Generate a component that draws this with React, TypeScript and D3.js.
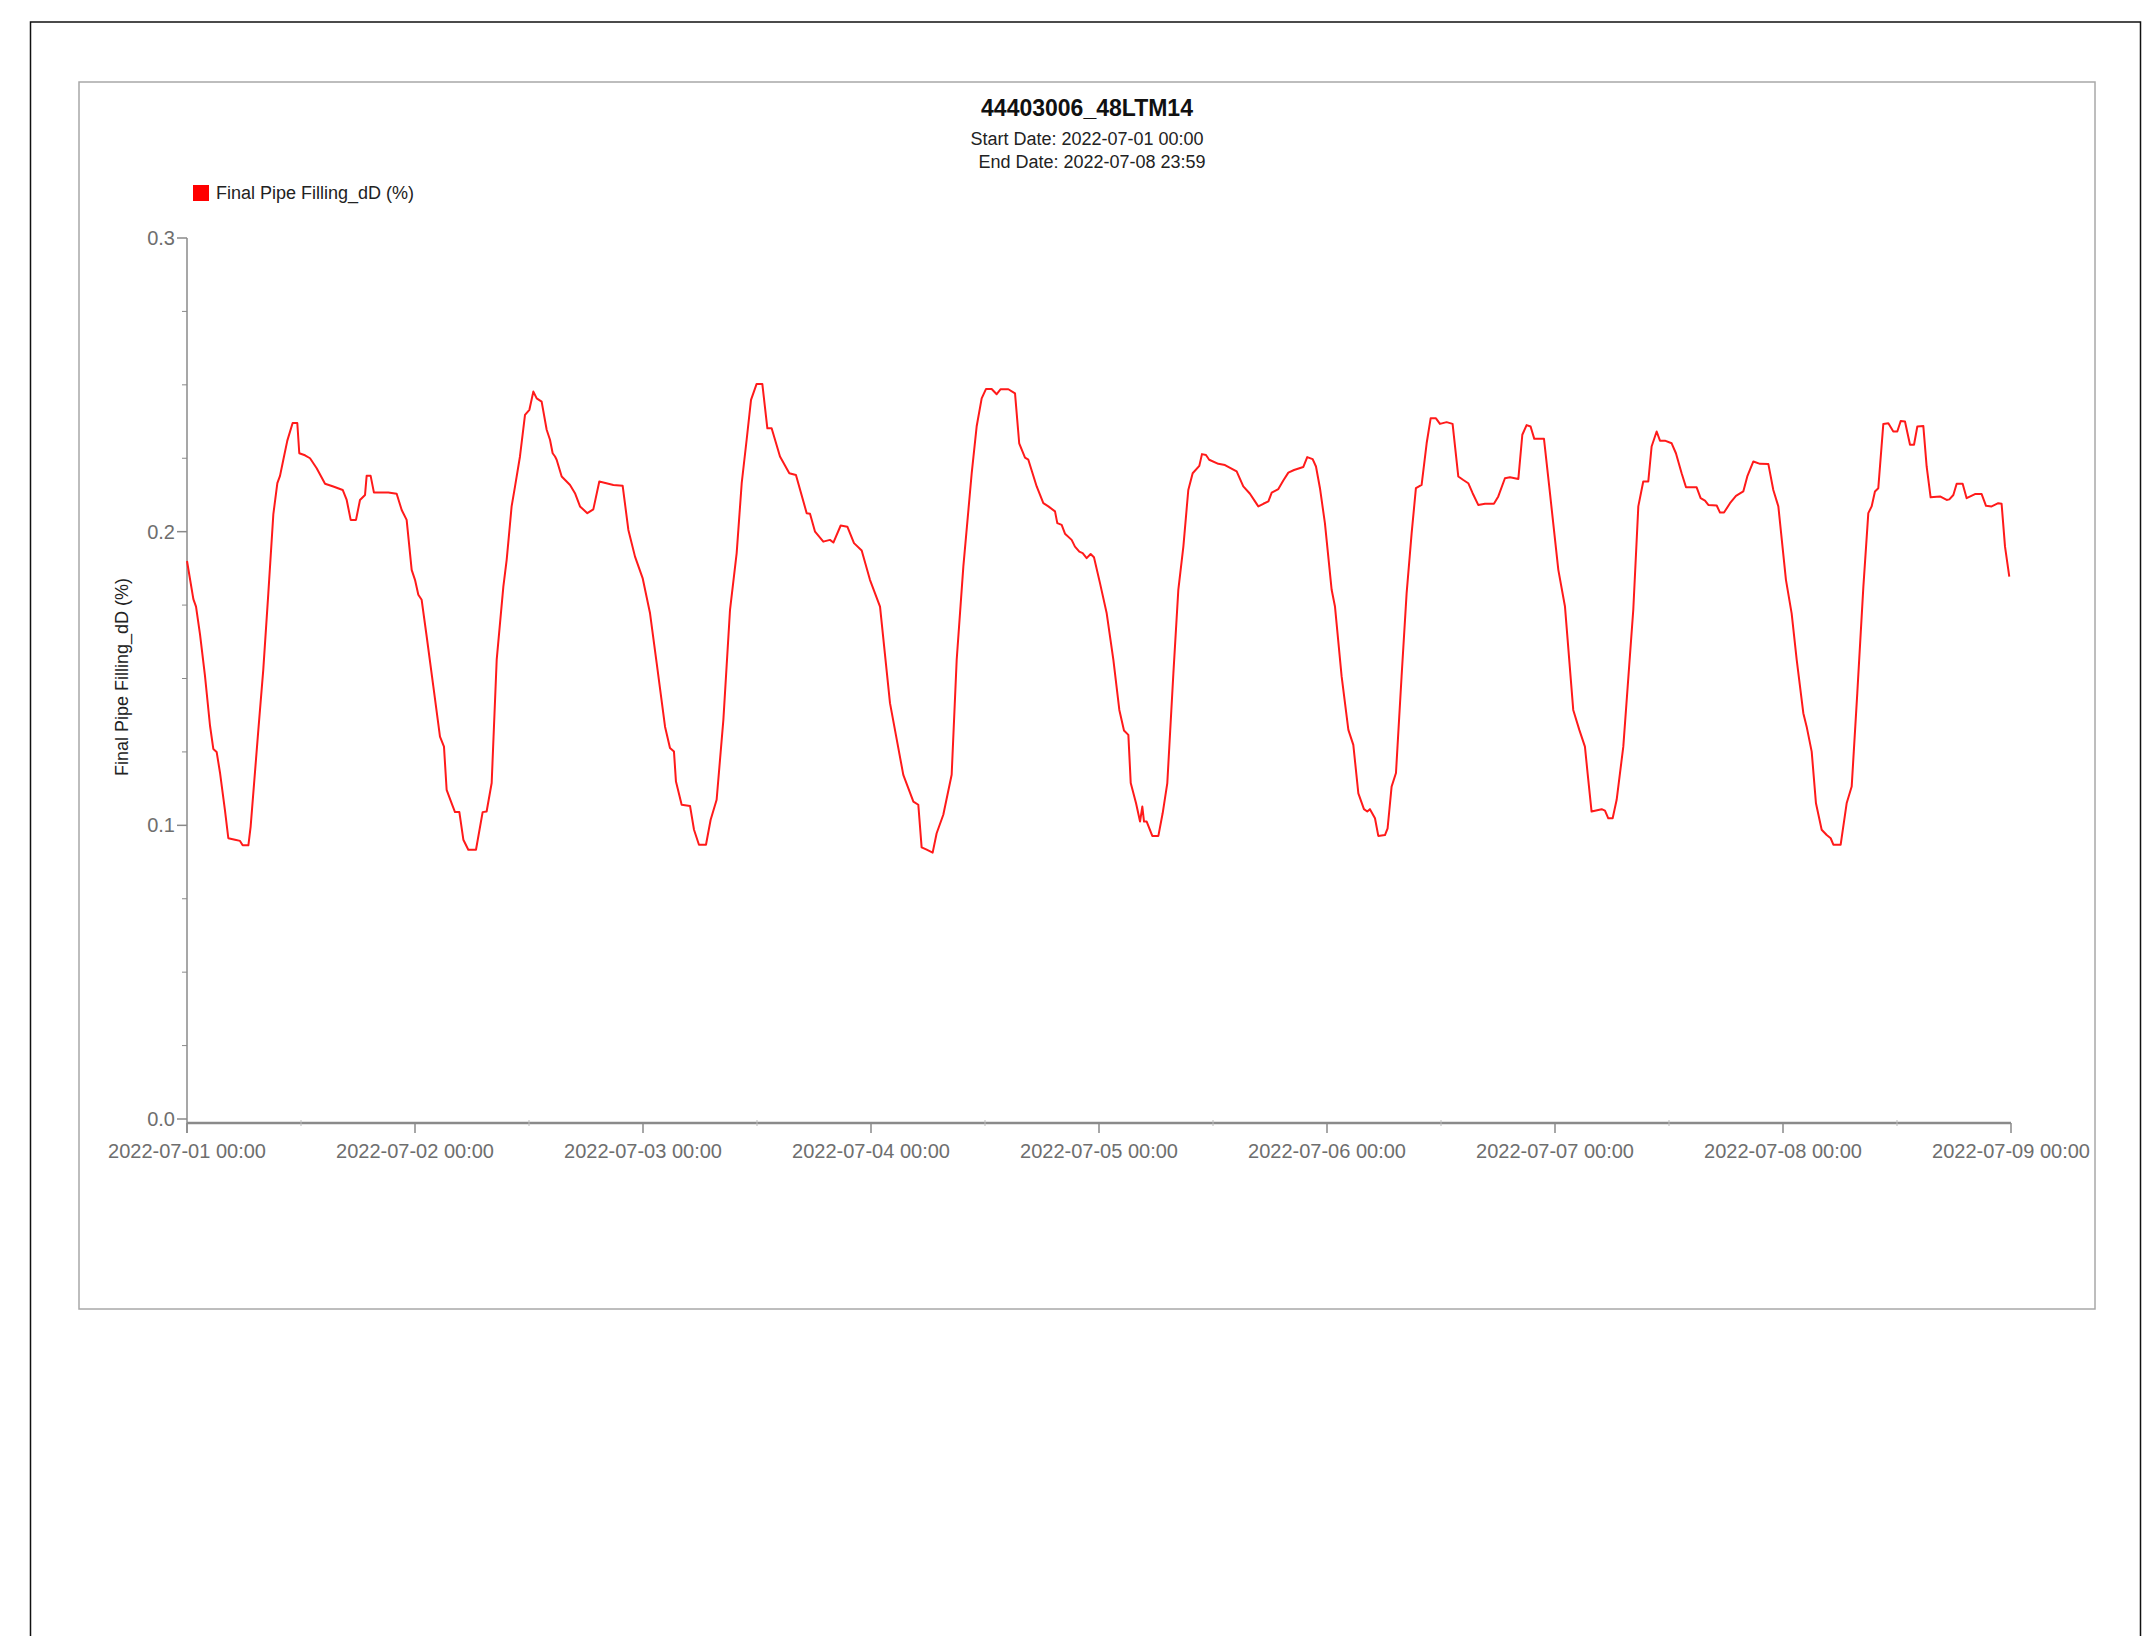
import React from "react";
import * as d3 from "d3";

const TITLE = "44403006_48LTM14";
const START_LABEL = "Start Date: 2022-07-01 00:00";
const END_LABEL = "End Date: 2022-07-08 23:59";
const SERIES_NAME = "Final Pipe Filling_dD (%)";
const Y_LABEL = "Final Pipe Filling_dD (%)";

const START = "2022-07-01T00:00:00Z";
const END = "2022-07-09T00:00:00Z";
const Y_TICKS = [0, 0.1, 0.2, 0.3];
const Y_MINOR_STEP = 0.025;

// hours since 2022-07-01 00:00
const HOURS = [
  0.0, 0.67, 0.95, 1.37, 1.89, 2.42, 2.77, 3.12, 3.47, 4.0, 4.35, 5.05, 5.58, 5.86, 6.46, 6.7, 7.51, 8.03, 8.56, 9.09,
  9.51, 9.79, 10.14, 10.56, 11.12, 11.61, 11.82, 12.42, 12.95, 13.65, 14.53, 15.4, 16.39, 16.81, 17.23, 17.79, 18.21,
  18.74, 18.91, 19.33, 19.68, 21.19, 22.07, 22.6, 23.12, 23.65, 24.0, 24.35, 24.7, 25.23, 25.93, 26.63, 27.05, 27.33,
  27.86, 28.21, 28.67, 29.09, 29.61, 30.42, 31.12, 31.54, 32.07, 32.6, 33.3, 33.65, 34.17, 34.53, 35.05, 35.58, 36.04,
  36.46, 36.81, 37.33, 37.86, 38.21, 38.49, 38.74,
  38.91, 39.44, 40.32, 40.84, 41.37, 42.14, 42.77, 43.4, 44.88, 45.86, 46.46, 47.16, 47.96, 48.74, 49.44, 50.32, 50.84,
  51.26, 51.47, 52.07, 52.95, 53.37, 53.89, 54.63, 55.12, 55.75, 56.46, 57.16, 57.86, 58.39, 58.91, 59.37, 59.96, 60.56,
  61.09, 61.54, 62.42, 63.4, 64.1, 65.23, 65.58, 66.11, 66.98, 67.68, 68.04, 68.81, 69.51, 70.21, 71.02, 71.89, 72.95,
  74.0, 75.4, 76.46, 76.98, 77.33,
  77.86, 78.49, 78.91, 79.61, 80.49, 81.02, 81.72, 82.6, 83.12, 83.65, 84.11, 84.7, 85.23, 85.65, 86.46, 87.16, 87.6,
  88.21, 88.56, 89.44, 90.14, 90.67, 91.37, 91.61, 92.07, 92.42, 93.12, 93.47, 93.93, 94.28, 94.7, 95.12, 95.47, 96.11,
  96.81, 97.51, 98.14, 98.63, 99.09, 99.34, 99.9, 100.32, 100.56, 100.74, 101.02, 101.61, 102.25, 102.7, 103.19,
  103.83, 104.35, 104.88, 105.4, 105.86, 106.56, 106.84, 107.26, 107.6, 108.56, 109.26, 110.49, 111.19, 111.89,
  112.42, 112.77, 113.3, 113.83, 114.18, 114.88, 115.4, 115.93, 116.53,
  117.5, 117.92, 118.49, 118.84, 119.26, 119.78, 120.49, 120.84, 121.54, 122.25, 122.77, 123.3, 123.89, 124.24,
  124.52, 125.05, 125.4, 126.1, 126.38, 126.8, 127.26, 127.85, 128.38, 128.91, 129.36, 129.96, 130.49, 130.91,
  131.47, 131.89, 132.59, 133.22, 133.82, 134.35, 134.87, 135.33, 135.92, 136.63, 137.57, 138.03, 138.73, 139.26,
  140.14, 140.56, 141.01, 141.43, 141.82, 142.84, 143.47, 144.35, 145.05, 145.92, 146.56, 147.15, 147.43, 147.85,
  148.91, 149.26, 149.61, 150.07, 150.49, 151.19, 152.24, 152.77, 153.29, 153.82, 154.17, 154.7, 155.05, 155.57,
  156.28, 156.73, 157.33, 157.79, 158.91, 159.33, 159.79, 160.14, 161.02, 161.37, 161.79, 162.42, 163.05, 163.82,
  164.24, 164.88, 165.58, 166.46, 166.98, 167.51, 168.31, 168.91, 169.44, 170.14, 170.49, 171.02, 171.47, 172.07,
  172.6, 173.02, 173.3, 174.07, 174.7, 175.23, 175.82, 176.46, 176.98, 177.33, 177.68, 178.03, 178.56, 179.09,
  179.61, 180.03, 180.39, 180.84, 181.37, 181.79, 182.14, 182.77, 183.12, 183.54, 184.53, 185.23, 185.51, 185.93,
  186.28, 186.91, 187.33, 188.21, 188.91, 189.37, 189.96, 190.66, 191.01, 191.37, 191.82,
];

const FILLING = [
  0.19, 0.177, 0.1745, 0.165, 0.151, 0.134, 0.126, 0.125, 0.118, 0.105, 0.0956, 0.0951, 0.0947, 0.0932, 0.0932, 0.0996,
  0.1325, 0.153, 0.179, 0.206, 0.2165, 0.219, 0.2245, 0.231, 0.237, 0.237, 0.2267, 0.226, 0.225, 0.2216, 0.2163,
  0.2154, 0.2142, 0.2108, 0.204, 0.204, 0.2108, 0.2125, 0.219, 0.219, 0.2133, 0.2133, 0.2129, 0.2074, 0.204, 0.187,
  0.1836, 0.1785, 0.1768, 0.1643, 0.1473, 0.1302, 0.1268, 0.1121, 0.1075, 0.1045, 0.1045, 0.0951, 0.0917, 0.0917,
  0.1045, 0.1047, 0.1144, 0.1564, 0.1813, 0.1904, 0.2086, 0.2154, 0.2256, 0.2398, 0.2415, 0.2477, 0.2454, 0.2443,
  0.2347, 0.2313, 0.2267, 0.2256,
  0.2245, 0.2188, 0.2159, 0.2131, 0.2086, 0.2063, 0.2076, 0.2171, 0.2159, 0.2156, 0.2006, 0.1915, 0.1842, 0.1722,
  0.1552, 0.1336, 0.1263, 0.1251, 0.1149, 0.107, 0.1066, 0.0985, 0.0934, 0.0934, 0.1019, 0.1087, 0.1359, 0.1734,
  0.1927, 0.2165, 0.2313, 0.2449, 0.2503, 0.2503, 0.2352, 0.2352, 0.2256, 0.2199, 0.2193, 0.2063, 0.2061, 0.2,
  0.1966, 0.1972, 0.1963, 0.2021, 0.2017, 0.1961, 0.1936, 0.1836, 0.1745, 0.1416, 0.1172, 0.1081, 0.107, 0.0925,
  0.0917, 0.0907, 0.0973, 0.1036, 0.1172, 0.1564, 0.1881, 0.2199, 0.2358, 0.2454, 0.2486, 0.2486, 0.2468, 0.2485,
  0.2485, 0.2471, 0.2301, 0.2252, 0.2245, 0.2154, 0.2097, 0.2086, 0.2069, 0.2029, 0.2023, 0.1993, 0.1972, 0.1949,
  0.1932, 0.1927, 0.191, 0.1924, 0.1913, 0.1824, 0.1722, 0.1564, 0.1393, 0.1323, 0.1308, 0.1144, 0.1075, 0.1013,
  0.1064, 0.1013, 0.1013, 0.0964, 0.0964, 0.1041, 0.1144, 0.1518, 0.1802, 0.1949, 0.2142, 0.2199, 0.2224, 0.2264,
  0.2261, 0.2245, 0.2231, 0.2227, 0.2205, 0.2154, 0.2129, 0.2103, 0.2086, 0.2095, 0.2103, 0.2133, 0.2145, 0.2174,
  0.2201, 0.221,
  0.222, 0.2254, 0.2247, 0.2222, 0.2148, 0.2029, 0.1802, 0.1745, 0.1507, 0.1325, 0.1274, 0.1109, 0.1055, 0.1047,
  0.1055, 0.1024, 0.0964, 0.0967, 0.099, 0.1132, 0.1178, 0.1507, 0.179, 0.1995, 0.2148, 0.2159, 0.2301, 0.2386,
  0.2386, 0.2367, 0.2373, 0.2367, 0.2188, 0.2176, 0.2165, 0.2131, 0.2091, 0.2095, 0.2095, 0.212, 0.2182, 0.2185,
  0.2179, 0.233, 0.2363, 0.2358, 0.2316, 0.2316, 0.2131, 0.187, 0.1745, 0.1393, 0.1325, 0.1268, 0.1178, 0.1047,
  0.1055, 0.105, 0.1024, 0.1024, 0.1087, 0.1268, 0.1734, 0.2086, 0.2171, 0.2171, 0.229, 0.2341, 0.231, 0.231,
  0.2301, 0.2267, 0.2199, 0.2151, 0.2151, 0.2114, 0.2106, 0.2091, 0.2089, 0.2065, 0.2065, 0.2097, 0.2122, 0.2137,
  0.2188, 0.2239, 0.2231, 0.223, 0.2142, 0.2086, 0.1836, 0.1722, 0.1564, 0.1382, 0.1336, 0.1251, 0.1075, 0.0985,
  0.0967, 0.0956, 0.0934, 0.0934, 0.1075, 0.1132, 0.145, 0.1813, 0.2063, 0.2086, 0.2137, 0.2148, 0.2367, 0.2369,
  0.2341, 0.2341, 0.2377, 0.2375, 0.2296, 0.2296, 0.2358, 0.236, 0.2222, 0.2117, 0.212, 0.2108, 0.211, 0.2125,
  0.2163, 0.2163, 0.2114, 0.2128, 0.2128, 0.2088, 0.2086, 0.2097, 0.2095, 0.1949, 0.1847,
];

const FONT = "Arial, 'Liberation Sans', Helvetica, sans-serif";
const W = 2143;
const H = 1636;

export default function App() {
  const start = new Date(START);
  const end = new Date(END);
  const x = d3.scaleUtc().domain([start, end]).range([187, 2011]);
  const y = d3.scaleLinear().domain([0, 0.3]).range([1119, 238]);
  const axisY = 1123;

  const data = HOURS.map((h, i) => ({ t: new Date(start.getTime() + h * 3600e3), v: FILLING[i] }));
  const line = d3
    .line<{ t: Date; v: number }>()
    .x((d) => x(d.t))
    .y((d) => y(d.v));

  const dayTicks = d3.utcDay.range(start, d3.utcDay.offset(end, 1));
  const halfTicks = d3.utcHour.every(12)!.range(start, end).filter((d) => d.getUTCHours() === 12);
  const fmt = d3.utcFormat("%Y-%m-%d %H:%M");
  const minorY = d3.range(0, 0.3 + 1e-9, Y_MINOR_STEP).filter((v) => !Y_TICKS.some((t) => Math.abs(t - v) < 1e-9));

  const axisColor = "#8a8a8a";
  const labelColor = "#6e6e6e";

  return (
    <svg
      width={W}
      height={H}
      style={{ position: "absolute", left: 0, top: 0, display: "block", background: "#fff" }}
      fontFamily={FONT}
    >
      <rect x={30.5} y={22} width={2110} height={1700} fill="#fff" stroke="#111" strokeWidth={1.5} />
      <rect x={79} y={82} width={2016} height={1227} fill="#fff" stroke="#a8a8a8" strokeWidth={1.5} />

      <text x={1087} y={116} textAnchor="middle" fontSize={23} fontWeight="bold" fill="#111">
        {TITLE}
      </text>
      <text x={1087} y={145} textAnchor="middle" fontSize={18} fill="#222">
        {START_LABEL}
      </text>
      <text x={1092} y={168} textAnchor="middle" fontSize={18} fill="#222">
        {END_LABEL}
      </text>

      <rect x={193} y={185} width={16} height={16} fill="#ff0000" />
      <text x={216} y={199} fontSize={18} fill="#222">
        {SERIES_NAME}
      </text>

      <text
        transform={`translate(122,677) rotate(-90)`}
        textAnchor="middle"
        dy="0.35em"
        fontSize={18}
        fill="#222"
      >
        {Y_LABEL}
      </text>

      {/* y axis */}
      <line x1={187} x2={187} y1={y(0.3)} y2={axisY + 10} stroke={axisColor} strokeWidth={1.5} />
      {Y_TICKS.map((t) => (
        <g key={t}>
          <line x1={177} x2={187} y1={y(t)} y2={y(t)} stroke={axisColor} strokeWidth={1.5} />
          <text x={175} y={y(t)} dy="0.35em" textAnchor="end" fontSize={20} fill={labelColor}>
            {d3.format(".1f")(t)}
          </text>
        </g>
      ))}
      {minorY.map((t) => (
        <line key={t} x1={182} x2={187} y1={y(t)} y2={y(t)} stroke={axisColor} strokeWidth={1} />
      ))}

      {/* x axis */}
      <line x1={187} x2={x(end)} y1={axisY} y2={axisY} stroke={axisColor} strokeWidth={2.5} />
      {dayTicks.map((d) => (
        <g key={+d}>
          <line x1={x(d)} x2={x(d)} y1={axisY} y2={axisY + 10} stroke={axisColor} strokeWidth={1.5} />
          <text x={x(d)} y={1158} textAnchor="middle" fontSize={20} fill={labelColor}>
            {fmt(d)}
          </text>
        </g>
      ))}
      {halfTicks.map((d) => (
        <line key={+d} x1={x(d)} x2={x(d)} y1={axisY - 3} y2={axisY + 3} stroke="#bdbdbd" strokeWidth={1} />
      ))}

      <path d={line(data) || ""} fill="none" stroke="#ff1a1a" strokeWidth={2} strokeLinejoin="round" />
    </svg>
  );
}
